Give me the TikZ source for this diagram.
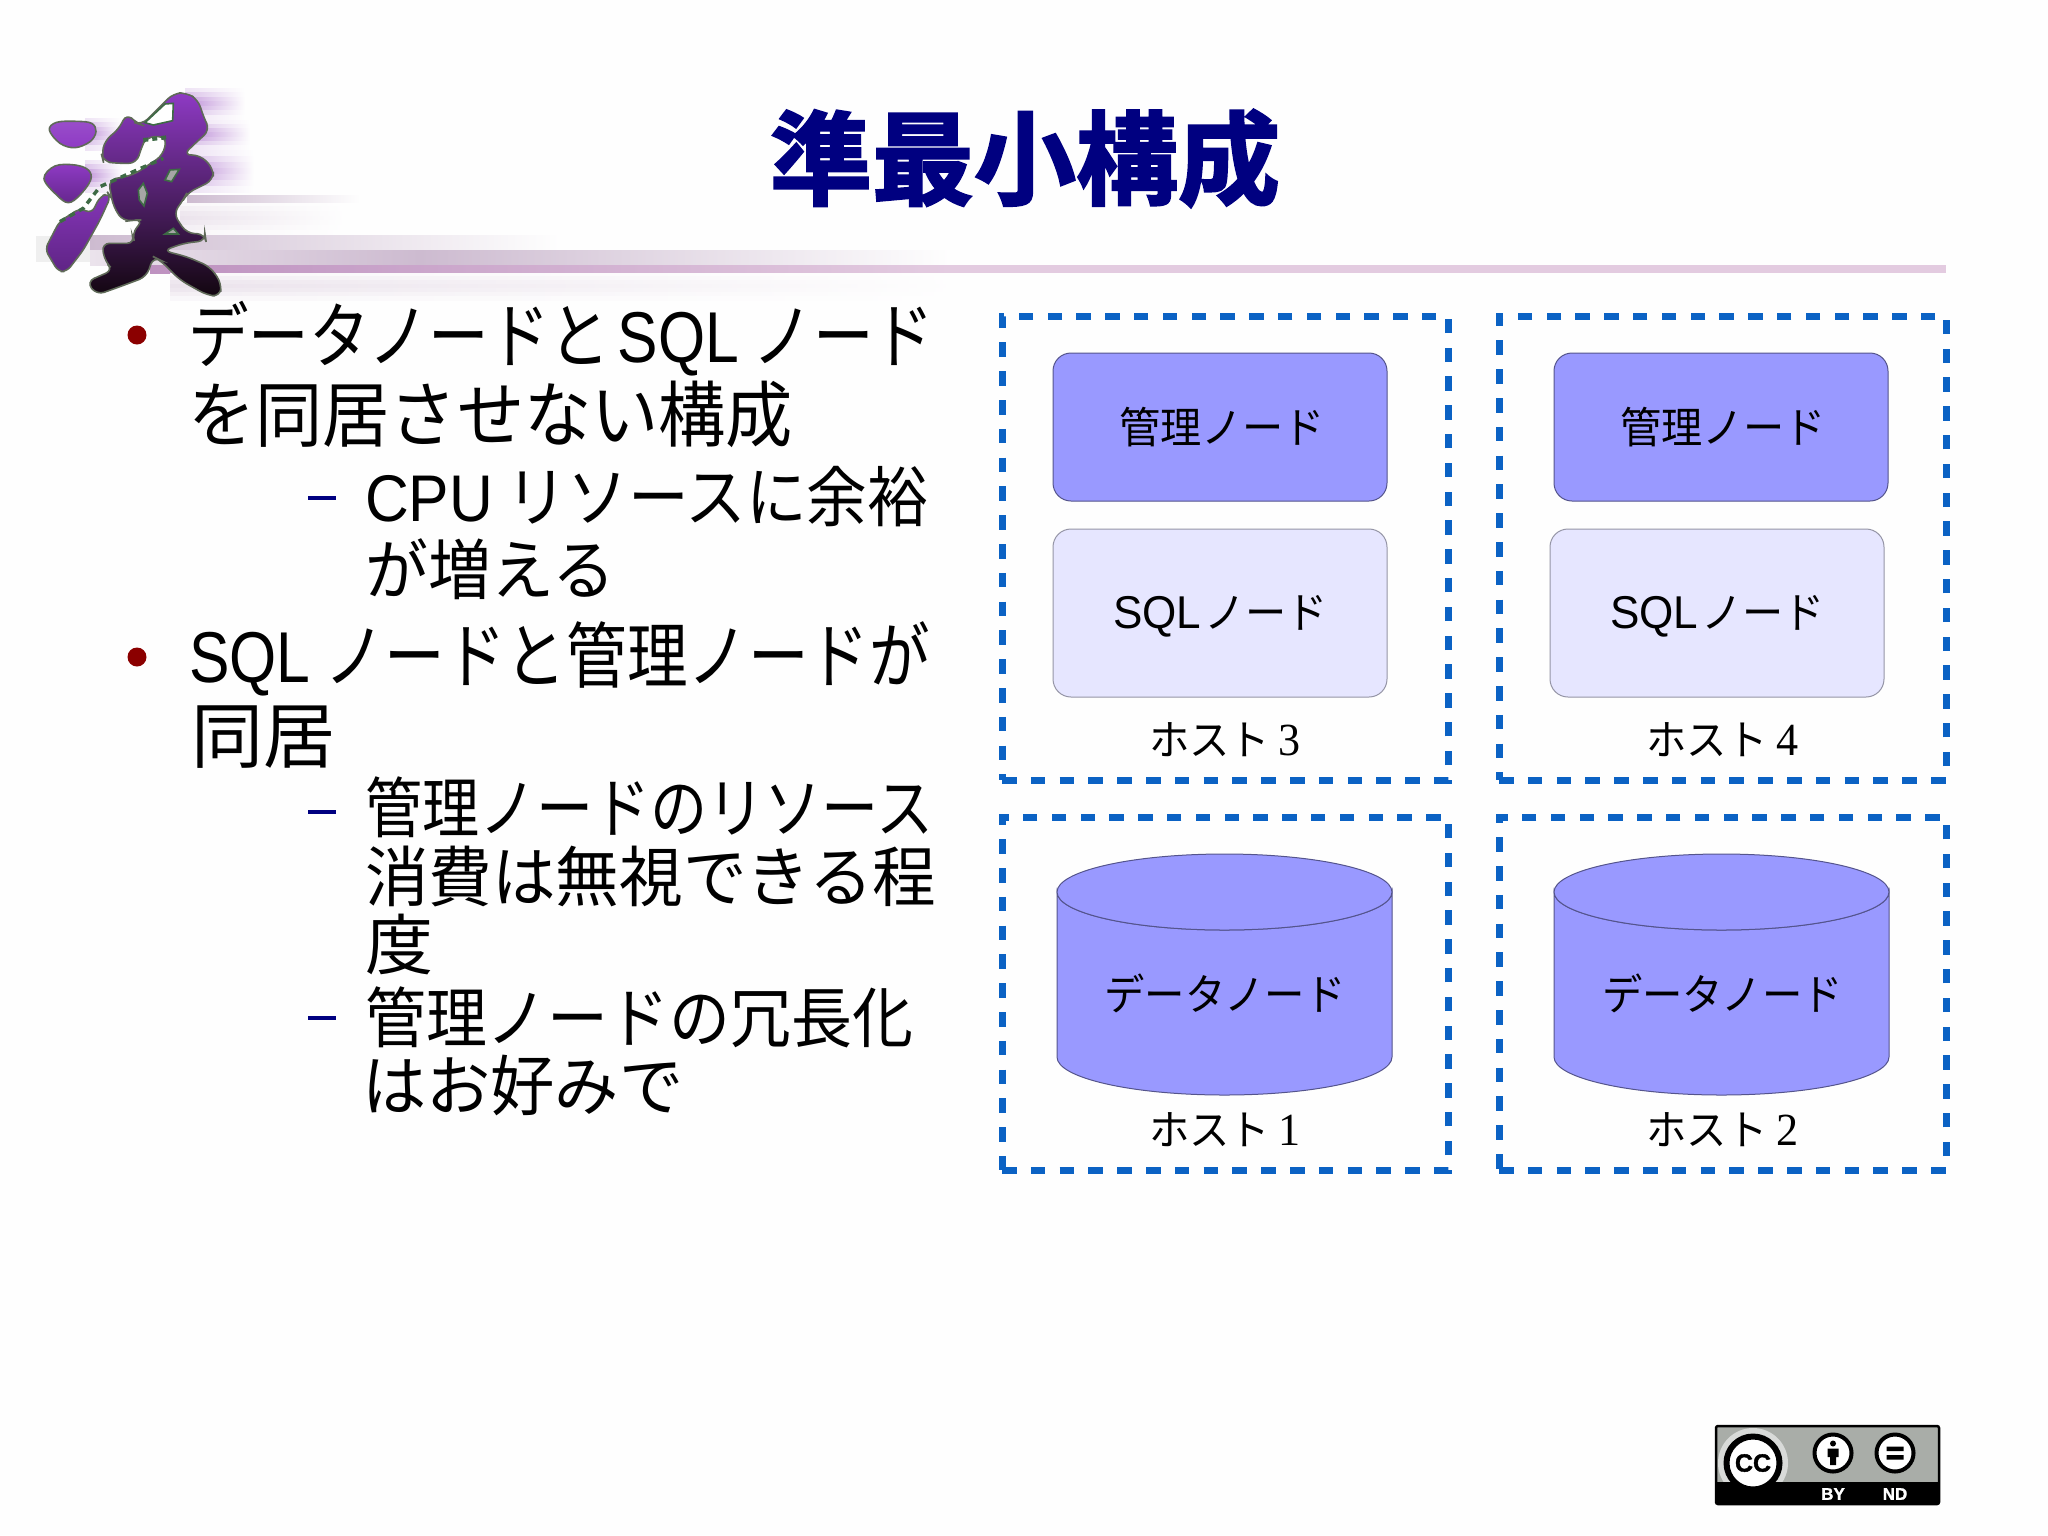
\documentclass[tikz,border=0pt]{standalone}
\usepackage{fontspec}
\usepackage{graphicx}
\setmainfont{Noto Sans CJK JP}
\newfontfamily\cjkbold[FakeBold=2.2]{Noto Sans CJK JP Bold}
\newfontfamily\lib{Liberation Sans}
\newfontfamily\libbold[FakeBold=1.5]{Liberation Sans Bold}
\newfontfamily\libser{Liberation Serif}
\definecolor{pagebg}{HTML}{FEFEFE}
\definecolor{nodeblue}{HTML}{9999FF}
\definecolor{nodepale}{HTML}{E6E6FF}
\definecolor{frameblue}{HTML}{0B62C4}
\definecolor{titleblue}{HTML}{000080}
\definecolor{bulletred}{HTML}{8B0000}
\definecolor{speck}{HTML}{3E6A45}
\definecolor{logoedge}{HTML}{5F6A58}
\definecolor{ccgrey}{HTML}{A9ADA8}
\definecolor{bandpink}{HTML}{E3CBE0}
\definecolor{bandleft}{HTML}{BE92C0}
\definecolor{bandgrey}{HTML}{CDBBD0}
\definecolor{bandpale}{HTML}{EBE3EC}
\definecolor{haze}{HTML}{BE90D8}
\definecolor{logotop}{HTML}{8E3AC4}
\definecolor{logomid}{HTML}{5F2485}
\definecolor{logolow}{HTML}{12060F}
\newcommand{\fitline}[3]{\fontsize{#1pt}{#1pt}\selectfont\resizebox{#2pt}{\height}{#3}}
\newcommand{\softband}[5]{%
  \foreach \i/\m in {0/25,1/55,2/85,3/100,4/85,5/55,6/25}{%
    \pgfmathsetmacro{\ya}{#3+(#4-#3)*\i/7}%
    \pgfmathsetmacro{\yb}{#3+(#4-#3)*(\i+1)/7}%
    \shade[draw=none,left color=#5!\m!pagebg,right color=pagebg] (#1,\ya) rectangle (#2,\yb);
  }}
\tikzset{
  x=1pt,y=-1pt,
  hostframe/.style={draw=frameblue,line width=7pt,dash pattern=on 14.5pt off 14.3pt,minimum width=446pt,minimum height=#1,inner sep=0pt,outer sep=0pt,anchor=north west},
  mgmtbox/.style={draw=black!45!nodeblue,line width=1pt,fill=nodeblue,rounded corners=18pt,minimum width=334pt,minimum height=148pt,inner sep=0pt,outer sep=0pt,anchor=north west},
  sqlbox/.style={draw=black!35!nodepale,line width=1pt,fill=nodepale,rounded corners=18pt,minimum width=334pt,minimum height=168pt,inner sep=0pt,outer sep=0pt,anchor=north west},
  cyl/.style={draw=black!45!nodeblue,line width=1pt,fill=nodeblue},
  lbl/.style={inner sep=0pt,anchor=base,text=black},
  bodyline/.style={inner sep=0pt,anchor=base west,text=black},
  dot/.style={fill=bulletred,circle,draw=none},
  subdash/.style={fill=titleblue,draw=none},
  fadeband/.style={draw=none,left color=#1,right color=pagebg},
  logostroke/.style={draw=logoedge,line width=1.6pt},
  ring/.style={circle,draw=black,fill=white,inner sep=0pt},
}
\newcommand{\mgmtlabel}{\fitline{43}{206}{管理ノード}}
\newcommand{\sqllabel}{\fitline{43}{215}{{\lib\fontsize{46pt}{46pt}\selectfont SQL}\hspace{0.08em}ノード}}
\newcommand{\datalabel}{\fitline{43}{241}{データノード}}
\newcommand{\hostlabel}[1]{\fitline{42}{152}{ホスト {\libser\fontsize{46pt}{46pt}\selectfont #1}}}
\begin{document}
\begin{tikzpicture}
\useasboundingbox (0,0) rectangle (2048,1535);
\fill[pagebg] (0,0) rectangle (2048,1535);

% motion-blur bands of the banner
\softband{185}{245}{88}{120}{haze}
\softband{190}{250}{120}{150}{haze}
\softband{85}{122}{118}{150}{haze}
\softband{190}{254}{150}{192}{haze}
\softband{85}{122}{160}{192}{haze}
\softband{180}{345}{202}{235}{bandpale}
\shade[fadeband=bandgrey] (187,195) rectangle (360,202);
\fill[black!6!pagebg] (36,236) rectangle (90,262);
\shade[fadeband=bandgrey] (90,235) rectangle (560,250);
\shade[left color=bandpale,right color=bandgrey] (90,250) rectangle (420,265);
\shade[fadeband=bandgrey] (420,250) rectangle (950,265);
\shade[left color=bandleft,right color=bandpink] (150,265) rectangle (950,273);
\fill[bandpink] (950,265) rectangle (1946,273);
\softband{170}{960}{273}{300}{bandpale}

% calligraphic logo mark
\begin{scope}[shift={(20,80)},x=0.3333pt,y=-0.3333pt]
  \filldraw[logostroke,top color=logotop!90!white,bottom color=logotop] plot[smooth cycle,tension=0.6] coordinates {(88,150) (110,127) (170,124) (215,130) (228,155) (210,185) (165,203) (120,190)};
  \filldraw[logostroke,top color=logotop,bottom color=logomid!85!logotop] plot[smooth cycle,tension=0.6] coordinates {(72,296) (105,258) (165,255) (205,270) (212,300) (180,345) (145,368) (110,345)};
  \filldraw[logostroke,rounded corners=6pt,top color=logotop!80!logomid,bottom color=logomid] (75,508) -- (118,425) -- (180,385) -- (215,400) -- (240,350) -- (265,340) -- (272,350) -- (240,420) -- (190,510) -- (140,575) -- (115,575) -- cycle;
  \filldraw[logostroke,rounded corners=8pt,top color=logotop,middle color=logomid,bottom color=logolow]
    (245,225) -- (255,180) -- (295,150) -- (320,100) -- (350,130) -- (365,135) -- (410,90) -- (460,40) -- (500,38) -- (535,60) -- (550,110) -- (570,150) -- (520,195) -- (490,225) -- (540,225) -- (580,265) -- (580,300) -- (500,340) -- (490,360) -- (460,400) -- (500,460) -- (555,462) -- (558,482) -- (490,490) -- (430,512) -- (500,530) -- (570,560) -- (605,610) -- (600,650) -- (560,645) -- (480,600) -- (420,540) -- (400,530) -- (380,590) -- (300,620) -- (230,645) -- (200,605) -- (280,570) -- (255,545) -- (245,490) -- (290,490) -- (345,490) -- (335,460) -- (370,420) -- (340,420) -- (310,425) -- (280,380) -- (265,300) -- (340,285) -- (430,225) -- (440,170) -- (380,170) -- (365,200) -- (350,250) -- (290,250) -- (250,245) -- cycle;
  \filldraw[fill=white,draw=speck,line width=1.6pt] (375,128) -- (435,72) -- (460,70) -- (458,122) -- (400,135) -- cycle;
  \draw[speck,line width=3.5pt,dash pattern=on 6pt off 5pt] (120,425) -- (190,385) -- (240,320) -- (340,275) -- (430,235);
  \draw[speck,line width=4pt,dash pattern=on 5pt off 4pt] (370,180) -- (440,172);
  \filldraw[fill=black!35,draw=speck,line width=1.6pt] (435,300) -- (450,270) -- (478,268) -- (455,305) -- cycle;
  \filldraw[fill=black!35,draw=speck,line width=1.6pt] (355,330) -- (370,310) -- (382,340) -- (372,378) -- (358,360) -- cycle;
  \filldraw[fill=black!35,draw=speck,line width=1.6pt] (435,462) -- (460,445) -- (475,462) -- cycle;
\end{scope}

% title
\node[inner sep=0pt,anchor=base,text=titleblue] (title) at (1025,197) {\cjkbold\fontsize{102pt}{102pt}\selectfont 準最小構成};

% bullet text
\node[dot,minimum size=19pt,inner sep=0pt] (b1) at (137,335) {};
\node[bodyline] (t1) at (188,362) {\fitline{72}{746}{データノードと\hspace{0.12em}{\lib SQL} ノード}};
\node[bodyline] (t2) at (188,441) {\fitline{72}{605}{を同居させない構成}};
\fill[subdash] (308,496) rectangle (336,500);
\node[bodyline] (t3) at (365,521) {\fitline{66}{563}{{\lib CPU} リソースに余裕}};
\node[bodyline] (t4) at (365,594) {\fitline{66}{250}{が増える}};
\node[dot,minimum size=19pt,inner sep=0pt] (b2) at (137,657) {};
\node[bodyline] (t5) at (189,682) {\fitline{72}{741}{{\lib SQL} ノードと管理ノードが}};
\node[bodyline] (t6) at (191,762) {\fitline{72}{144}{同居}};
\fill[subdash] (308,810) rectangle (336,814);
\node[bodyline] (t7) at (365,832) {\fitline{66}{568}{管理ノードのリソース}};
\node[bodyline] (t8) at (365,901) {\fitline{66}{571}{消費は無視できる程}};
\node[bodyline] (t9) at (365,969) {\fitline{66}{68}{度}};
\fill[subdash] (308,1016) rectangle (336,1020);
\node[bodyline] (t10) at (365,1042) {\fitline{66}{548}{管理ノードの冗長化}};
\node[bodyline] (t11) at (362,1110) {\fitline{66}{321}{はお好みで}};

% host frames
\node[hostframe=464pt] (h3) at (1002,316) {};
\node[hostframe=464pt,minimum width=447pt] (h4) at (1499,316) {};
\node[hostframe=353pt] (h1) at (1002,817) {};
\node[hostframe=353pt,minimum width=447pt] (h2) at (1499,817) {};

% host 3
\node[mgmtbox] (m3) at (1053,353) {};
\node[sqlbox] (s3) at (1053,529) {};
\node[lbl] (m3t) at (1222,443) {\mgmtlabel};
\node[lbl] (s3t) at (1220.5,628) {\sqllabel};
\node[lbl] (h3t) at (1225,755) {\hostlabel{3}};

% host 4
\node[mgmtbox] (m4) at (1554,353) {};
\node[sqlbox] (s4) at (1550,529) {};
\node[lbl] (m4t) at (1723,443) {\mgmtlabel};
\node[lbl] (s4t) at (1717.5,628) {\sqllabel};
\node[lbl] (h4t) at (1722.5,755) {\hostlabel{4}};

% host 1 cylinder
\filldraw[cyl] (1057,892) -- (1057,1057) arc[start angle=180,end angle=0,x radius=167.5,y radius=38] -- (1392,892) arc[start angle=0,end angle=180,x radius=167.5,y radius=38] -- cycle;
\draw[cyl] (1224.5,892) ellipse[x radius=167.5,y radius=38];
\node[lbl] (d1t) at (1225,1010) {\datalabel};
\node[lbl] (h1t) at (1225,1145) {\hostlabel{1}};

% host 2 cylinder
\filldraw[cyl] (1554,892) -- (1554,1057) arc[start angle=180,end angle=0,x radius=167.5,y radius=38] -- (1889,892) arc[start angle=0,end angle=180,x radius=167.5,y radius=38] -- cycle;
\draw[cyl] (1721.5,892) ellipse[x radius=167.5,y radius=38];
\node[lbl] (d2t) at (1722.5,1010) {\datalabel};
\node[lbl] (h2t) at (1722.5,1145) {\hostlabel{2}};

% licence badge
\fill[ccgrey] (1716,1426) rectangle (1939,1482);
\begin{scope}
  \clip (1716,1426) rectangle (1939,1482);
  \fill[white!55!ccgrey] (1753,1463) circle[radius=35];
\end{scope}
\fill[black] (1716,1482) rectangle (1939,1504);
\draw[black,line width=2.5pt,rounded corners=2pt] (1716,1426) rectangle (1939,1504);
\node[ring,line width=6pt,minimum size=53pt,font=\libbold\fontsize{25pt}{25pt}\selectfont] (cc) at (1753,1463) {CC};
\node[ring,line width=4pt,minimum size=37pt] (by) at (1833,1453) {};
\fill[black] (1833,1443.5) circle[radius=3];
\fill[black] (1827.5,1448.5) rectangle (1838.5,1457) (1830,1457) rectangle (1836,1465);
\node[ring,line width=4pt,minimum size=37pt] (nd) at (1895,1453) {};
\fill[black] (1886.5,1446.5) rectangle (1903.5,1451) (1886.5,1455) rectangle (1903.5,1459.5);
\node[inner sep=0pt,text=white,font=\libbold\fontsize{17pt}{17pt}\selectfont] (byt) at (1833,1494) {BY};
\node[inner sep=0pt,text=white,font=\libbold\fontsize{17pt}{17pt}\selectfont] (ndt) at (1895,1494) {ND};
\end{tikzpicture}
\end{document}
